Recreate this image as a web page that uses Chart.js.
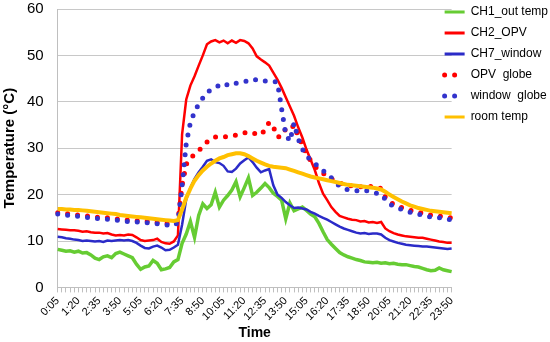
<!DOCTYPE html>
<html>
<head>
<meta charset="utf-8">
<script src="https://cdn.jsdelivr.net/npm/chart.js@4.4.0/dist/chart.umd.min.js"></script>
<style>
  body { margin: 0; background: #fff; }
  #wrap { width: 550px; height: 342px; }
</style>
</head>
<body>
<div id="wrap"><canvas id="chart"></canvas></div>
<script>
// 15 min samples, 0:05 .. 23:50
const times = [];
for (let h = 0; h < 24; h++) ['05', '20', '35', '50'].forEach(m => times.push(h + ':' + m));

const tickLabels = ['0:05','1:20','2:35','3:50','5:05','6:20','7:35','8:50','10:05','11:20',
                    '12:35','13:50','15:05','16:20','17:35','18:50','20:05','21:20','22:35','23:50'];

const outTemp = [
  8.2, 8.0, 7.8, 7.9, 7.6, 7.8, 7.4, 7.5, 7.0, 6.3,
  6.0, 6.6, 6.8, 6.4, 7.3, 7.6, 7.2, 6.8, 6.4, 5.0,
  3.9, 4.4, 4.6, 5.8, 5.2, 3.8, 4.0, 4.3, 5.5, 6.0,
  9.5, 11.5, 14.2, 10.8, 15.5, 18.0, 17.0, 17.8, 20.5, 17.3,
  18.8, 19.8, 21.0, 22.8, 19.5, 21.5, 23.6, 19.8, 20.5, 21.4,
  22.4, 21.5, 20.3, 19.6, 18.8, 14.8, 18.2, 16.5, 16.9, 17.3,
  16.6, 15.8, 15.2, 13.8, 12.0, 10.3, 9.3, 8.4, 7.5, 7.0,
  6.6, 6.3, 6.0, 5.8, 5.5, 5.4, 5.3, 5.4, 5.2, 5.3,
  5.1, 5.2, 5.0, 4.9, 4.9, 4.7, 4.5, 4.4, 4.1, 3.8,
  3.6, 3.7, 4.2, 3.8, 3.6, 3.4
];

const opvTemp = [
  12.6, 12.5, 12.4, 12.3, 12.3, 12.2, 12.0, 12.1, 11.9, 11.8,
  11.8, 11.6, 11.7, 11.4, 11.2, 11.3, 11.2, 11.4, 11.3, 10.8,
  10.2, 10.0, 10.1, 10.2, 10.5, 9.8, 9.5, 9.4, 9.9, 11.2,
  33.0, 40.5, 43.5, 45.5, 47.8, 50.0, 52.4, 53.0, 53.3, 52.8,
  53.2, 52.6, 53.2, 52.7, 53.3, 53.1, 52.6, 51.5, 49.8, 49.1,
  48.5, 47.8, 46.3, 44.8, 43.0, 41.0, 39.0, 37.0, 34.5, 32.3,
  29.7, 27.5, 25.3, 22.5, 20.2, 18.8, 17.3, 16.3, 15.4, 15.1,
  14.8, 14.6, 14.5, 14.2, 14.3, 14.0, 14.1, 13.9, 14.1, 12.7,
  12.1, 11.7, 11.4, 11.2, 11.0, 10.9, 10.8, 10.7, 10.7, 10.5,
  10.3, 10.1, 9.9, 9.8, 9.6, 9.6
];

const windowTemp = [
  10.9, 10.8, 10.6, 10.5, 10.3, 10.2, 10.0, 10.1, 10.0, 9.9,
  10.0, 9.8, 10.1, 10.0, 10.1, 10.2, 10.1, 10.2, 10.0, 9.6,
  9.0, 8.5, 8.4, 8.8, 9.0, 8.6, 8.0, 8.1, 8.6, 9.2,
  13.5, 19.0, 21.5, 23.4, 24.8, 26.0, 27.3, 27.6, 27.0, 26.8,
  26.2, 25.0, 24.9, 25.6, 26.7, 27.4, 28.0, 27.0, 25.8, 24.8,
  25.2, 25.5, 22.0, 20.0, 19.3, 18.4, 17.7, 17.1, 17.2, 17.0,
  16.8, 16.3, 15.9, 15.4, 15.0, 14.6, 14.1, 13.6, 13.1, 12.7,
  12.4, 12.1, 11.8, 11.6, 11.7, 11.5, 11.6, 11.6, 11.4, 10.7,
  10.2, 9.9, 9.6, 9.4, 9.2, 9.1, 9.0, 8.9, 8.8, 8.8,
  8.7, 8.6, 8.5, 8.4, 8.3, 8.4
];

const opvGlobe = [
  16.1, 16.0, 15.9, 15.8, 15.7, 15.6, 15.5, 15.4, 15.3, 15.2,
  15.1, 15.0, 15.0, 14.9, 14.8, 14.7, 14.6, 14.5, 14.5, 14.4,
  14.3, 14.3, 14.2, 14.1, 14.0, 13.9, 13.8, 13.7, 13.6, 14.3,
  22.0, 26.5, 27.8, 28.7, 29.4, 30.5, 31.3, 32.0, 32.4, 32.5,
  32.4, 32.5, 32.6, 32.8, 33.0, 33.3, 33.5, 33.3, 33.0, 32.9,
  34.0, 35.6, 34.6, 32.4, 32.6, 34.2, 34.0, 35.0, 32.6, 30.8,
  28.8, 27.3, 26.1, 25.3, 24.6, 24.0, 23.4, 22.8, 22.5, 22.2,
  22.0, 21.9, 21.7, 21.7, 21.6, 21.7, 21.8, 21.7, 21.3, 19.5,
  18.5, 17.9, 17.5, 17.2, 16.9, 16.6, 16.4, 16.2, 16.0, 15.7,
  15.6, 15.5, 15.4, 15.2, 15.1, 15.0
];

const windowGlobe = [
  15.8, 15.7, 15.6, 15.5, 15.4, 15.3, 15.2, 15.1, 15.0, 14.9,
  14.8, 14.7, 14.7, 14.6, 14.5, 14.4, 14.3, 14.2, 14.2, 14.1,
  14.0, 14.0, 13.9, 13.8, 13.7, 13.6, 13.5, 13.4, 13.3, 14.0,
  22.0, 31.0, 35.5, 37.8, 39.5, 40.8, 42.0, 42.6, 43.0, 43.6,
  44.0, 43.6, 43.5, 44.0, 44.2, 44.3, 44.6, 44.9, 44.7, 44.4,
  44.5, 44.5, 44.4, 44.2, 38.5, 33.0, 31.5, 35.4, 32.0, 29.8,
  28.4, 27.4, 26.7, 26.0, 25.2, 24.4, 23.6, 22.7, 21.8, 21.4,
  21.0, 20.9, 20.8, 20.9, 21.0, 20.7, 20.4, 20.3, 20.1, 19.0,
  18.0, 17.5, 17.1, 16.8, 16.5, 16.2, 16.0, 15.8, 15.5, 15.3,
  15.2, 15.1, 15.0, 14.9, 14.7, 14.6
];

const roomTemp = [
  16.9, 16.9, 16.8, 16.8, 16.7, 16.7, 16.6, 16.5, 16.4, 16.3,
  16.2, 16.1, 16.0, 15.9, 15.8, 15.6, 15.5, 15.4, 15.3, 15.2,
  15.1, 15.0, 14.9, 14.8, 14.7, 14.6, 14.5, 14.4, 14.3, 14.5,
  16.8, 19.3, 21.3, 23.0, 24.2, 25.2, 26.0, 26.7, 27.3, 27.8,
  28.1, 28.5, 28.7, 28.9, 28.9, 28.7, 28.3, 27.8, 27.3, 26.9,
  26.5, 26.2, 26.0, 25.9, 25.8, 25.7, 25.4, 25.1, 24.8, 24.5,
  24.2, 23.9, 23.7, 23.5, 23.3, 23.1, 22.9, 22.7, 22.5, 22.3,
  22.1, 22.0, 21.9, 21.8, 21.7, 21.6, 21.5, 21.3, 21.1, 20.6,
  20.0, 19.5, 19.0, 18.5, 18.1, 17.7, 17.4, 17.1, 16.9, 16.7,
  16.5, 16.4, 16.3, 16.2, 16.1, 16.0
];

Chart.defaults.font.family = 'Arial, "Liberation Sans", sans-serif';
Chart.defaults.color = '#000';

function solid(label, data, color, width) {
  return { label: label, data: data, borderColor: color, backgroundColor: color,
           borderWidth: width, pointRadius: 0, tension: 0 };
}
function dotted(label, data, color) {
  return { label: label, data: data, borderColor: color, backgroundColor: color,
           borderWidth: 5, borderDash: [0, 10], borderCapStyle: 'round',
           pointRadius: 0, tension: 0 };
}

// first dataset is drawn on top, so list them back to front
const datasets = [
  solid('room temp', roomTemp, '#FFC000', 4),
  dotted('window  globe', windowGlobe, '#3333CC'),
  dotted('OPV  globe', opvGlobe, '#FF0000'),
  solid('CH7_window', windowTemp, '#2B2BC8', 2.5),
  solid('CH2_OPV', opvTemp, '#FF0000', 2.5),
  solid('CH1_out temp', outTemp, '#66CC33', 3.5)
];

// legend sits partly over the plot, like the original
const legendNudge = {
  id: 'legendNudge',
  afterLayout(chart) {
    const lg = chart.legend;
    lg.left -= 16; lg.right -= 16;
    lg.top -= 3; lg.bottom -= 3;
  }
};

new Chart(document.getElementById('chart'), {
  type: 'line',
  data: { labels: times, datasets: datasets },
  plugins: [legendNudge],
  options: {
    responsive: true,
    maintainAspectRatio: false,
    animation: false,
    layout: { padding: { left: 0, right: -24, top: 0, bottom: 0 } },
    plugins: {
      tooltip: { enabled: false },
      legend: {
        position: 'right',
        align: 'start',
        labels: {
          usePointStyle: true,
          pointStyleWidth: 20,
          padding: 9,
          font: { size: 12 },
          generateLabels(chart) {
            return chart.data.datasets.map((ds, i) => ({
              text: ds.label,
              strokeStyle: ds.borderColor,
              fillStyle: ds.borderColor,
              lineWidth: ds.borderDash ? 5 : 3,
              lineDash: ds.borderDash || [],
              lineCap: ds.borderDash ? 'round' : 'butt',
              pointStyle: 'line',
              hidden: false,
              datasetIndex: i
            })).reverse();
          }
        }
      }
    },
    scales: {
      x: {
        type: 'category',
        grid: { display: true, drawOnChartArea: false, drawTicks: true, tickLength: 5, color: '#BFBFBF' },
        border: { display: true, color: '#BFBFBF' },
        ticks: {
          autoSkip: false,
          maxRotation: 45,
          minRotation: 45,
          padding: 2,
          font: { size: 11 },
          callback(v, i) { return tickLabels.includes(times[i]) ? times[i] : ''; }
        },
        title: { display: true, text: 'Time', font: { size: 14, weight: 'bold' }, padding: { top: 0, bottom: 0 } }
      },
      y: {
        min: 0,
        max: 60,
        // invisible tick marks give the gap between labels and axis
        grid: { color: '#C8C8C8', drawTicks: true, tickLength: 14, tickColor: 'rgba(0,0,0,0)' },
        border: { display: true, color: '#BFBFBF' },
        ticks: { stepSize: 10, font: { size: 15 }, padding: 0 },
        title: { display: true, text: 'Temperature (°C)', font: { size: 15, weight: 'bold' }, padding: { top: 1, bottom: 8 } }
      }
    }
  }
});
</script>
</body>
</html>
